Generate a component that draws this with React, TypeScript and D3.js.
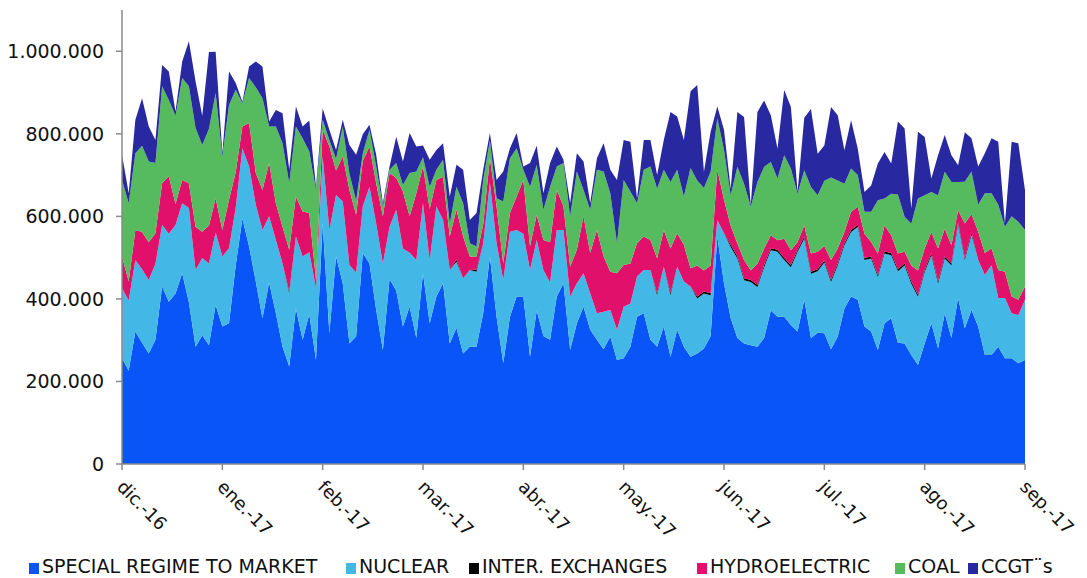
import React from "react";
import * as d3 from "d3";

// Month tick labels (x axis)
const MONTH_LABELS = ["dic.-16", "ene.-17", "feb.-17", "mar.-17", "abr.-17", "may.-17", "jun.-17", "jul.-17", "ago.-17", "sep.-17"];
const POINTS_PER_MONTH = 15;
const Y_TICKS = [0, 200000, 400000, 600000, 800000, 1000000];

// Series values in thousands, one value per sample
const SPECIAL = [
  256, 226, 321, 294, 268, 301, 430, 393, 413, 462, 392, 284, 312, 288, 385,
  333, 341, 481, 595, 527, 442, 353, 440, 365, 284, 236, 377, 301, 363, 252,
  583, 317, 503, 438, 292, 309, 511, 486, 373, 276, 448, 420, 333, 381, 305,
  462, 341, 406, 438, 292, 330, 268, 284, 284, 365, 503, 357, 244, 357, 406,
  406, 260, 372, 310, 301, 406, 438, 276, 341, 381, 325, 301, 278, 309, 252,
  256, 284, 357, 365, 301, 284, 333, 260, 325, 284, 260, 268, 280, 310, 551,
  438, 353, 305, 292, 288, 284, 305, 372, 357, 357, 337, 321, 398, 305, 318,
  317, 278, 309, 377, 406, 398, 333, 321, 276, 341, 353, 294, 292, 264, 240,
  292, 341, 280, 365, 305, 402, 329, 373, 333, 264, 264, 284, 256, 256, 244, 252,
];
const NUCLEAR = [
  170, 170, 173, 178, 178, 184, 149, 165, 166, 170, 228, 186, 187, 198, 176,
  170, 182, 140, 170, 194, 186, 214, 160, 178, 202, 178, 174, 202, 150, 174,
  162, 250, 149, 198, 190, 155, 113, 186, 210, 210, 127, 196, 189, 131, 189,
  170, 153, 218, 153, 178, 160, 182, 186, 182, 170, 179, 178, 202, 206, 161,
  152, 210, 171, 160, 139, 161, 129, 130, 97, 81, 89, 64, 91, 64, 73,
  125, 105, 97, 105, 169, 125, 145, 149, 153, 158, 170, 133, 133, 99, 40,
  121, 173, 193, 153, 153, 145, 172, 146, 157, 137, 140, 193, 148, 156, 149,
  171, 163, 172, 153, 156, 176, 161, 177, 177, 169, 153, 173, 189, 173, 165,
  173, 165, 157, 133, 176, 178, 165, 182, 161, 194, 218, 118, 146, 109, 117, 146,
];
const EXCHANGES = [
  0, 0, 0, 0, 0, 0, 0, 0, 0, 0, 0, 0, 0, 0, 0,
  0, 0, 0, 0, 0, 0, 0, 0, 0, 0, 4, 0, 0, 0, 0,
  0, 0, 0, 0, 0, 0, 0, 0, 0, 0, 0, 0, 0, 0, 0,
  0, 0, 0, 0, 0, 5, 0, 0, 5, 0, 0, 0, 0, 0, 0,
  0, 0, 0, 0, 0, 0, 0, 0, 0, 0, 0, 0, 0, 0, 0,
  0, 0, 0, 0, 0, 5, 0, 5, 0, 0, 0, 5, 5, 5, 0,
  0, 5, 5, 5, 5, 5, 5, 5, 5, 5, 5, 5, 5, 5, 5,
  5, 5, 5, 5, 5, 5, 5, 5, 5, 5, 5, 5, 5, 5, 5,
  5, 5, 5, 5, 5, 5, 5, 5, 0, 0, 0, 0, 0, 0, 0, 0,
];
const HYDRO = [
  77, 46, 73, 90, 91, 74, 101, 139, 51, 56, 60, 105, 64, 92, 83,
  64, 117, 86, 53, 105, 77, 97, 129, 89, 89, 101, 97, 109, 95, 20,
  65, 202, 59, 109, 182, 140, 110, 97, 97, 114, 130, 77, 138, 88, 162,
  89, 124, 64, 105, 81, 121, 101, 33, 32, 46, 59, 89, 40, 45, 81,
  130, 57, 61, 73, 97, 97, 57, 72, 81, 138, 97, 202, 134, 93, 137,
  101, 97, 81, 81, 73, 84, 89, 108, 81, 89, 44, 75, 51, 67, 122,
  81, 46, 31, 44, 23, 51, 40, 31, 23, 47, 36, 19, 27, 44, 42,
  35, 48, 36, 27, 44, 44, 59, 35, 52, 63, 43, 38, 28, 39, 59,
  52, 51, 80, 67, 44, 30, 84, 46, 69, 53, 41, 68, 64, 41, 37, 32,
];
const COAL = [
  185, 190, 186, 209, 196, 170, 235, 185, 214, 247, 235, 239, 210, 234, 255,
  178, 230, 200, 56, 109, 208, 222, 89, 186, 202, 161, 170, 177, 149, 218,
  24, 16, 28, 73, 39, 34, 19, 41, 41, 24, 8, 36, 16, 105, 53,
  22, 54, 25, 41, 32, 56, 81, 32, 24, 107, 43, 20, 150, 133, 117,
  25, 145, 121, 73, 135, 57, 105, 122, 190, 64, 105, 146, 206, 190, 73,
  206, 174, 97, 162, 178, 169, 146, 161, 154, 117, 243, 206, 200, 227, 125,
  121, 74, 186, 185, 154, 198, 198, 178, 150, 202, 198, 117, 134, 161, 137,
  158, 200, 165, 117, 105, 77, 53, 73, 129, 65, 101, 143, 85, 101, 174,
  129, 97, 129, 138, 153, 68, 101, 103, 65, 145, 133, 158, 109, 194, 189, 137,
];
const CCGT = [
  61, 24, 81, 115, 85, 56, 52, 69, 10, 40, 109, 113, 71, 186, 100,
  8, 81, 16, 4, 28, 62, 77, 12, 40, 73, 33, 48, 29, 75, 8,
  28, 25, 22, 16, 70, 111, 46, 12, 28, 8, 8, 64, 57, 97, 60,
  29, 65, 48, 40, 65, 53, 81, 56, 81, 25, 18, 44, 73, 24, 37,
  8, 57, 46, 40, 57, 48, 8, 32, 44, 69, 16, 28, 68, 57, 153,
  97, 121, 12, 72, 64, 33, 72, 170, 129, 137, 186, 231, 39, 97, 28,
  49, 16, 133, 162, 4, 170, 161, 113, 72, 158, 149, 4, 127, 189, 101,
  86, 171, 158, 81, 117, 64, 48, 64, 89, 113, 73, 177, 214, 37, 162,
  141, 33, 97, 89, 65, 41, 120, 80, 93, 97, 133, 153, 8, 181, 190, 96,
];

const SERIES = [
  { key: "special", name: "SPECIAL REGIME TO MARKET", color: "#0A55F8", values: SPECIAL },
  { key: "nuclear", name: "NUCLEAR", color: "#43B8E6", values: NUCLEAR },
  { key: "exchanges", name: "INTER. EXCHANGES", color: "#000000", values: EXCHANGES },
  { key: "hydro", name: "HYDROELECTRIC", color: "#E1106A", values: HYDRO },
  { key: "coal", name: "COAL", color: "#55BB5E", values: COAL },
  { key: "ccgt", name: "CCGT¨s", color: "#2828A0", values: CCGT },
];

const LEGEND_X = [29, 346, 469, 697, 895, 968];

export default function App() {
  const W = 1087, H = 578;
  const left = 122, right = 1025, top = 10, bottom = 464;
  const font = "'DejaVu Sans', Verdana, sans-serif";
  const n = SPECIAL.length;

  const x = d3.scaleLinear().domain([0, MONTH_LABELS.length - 1]).range([left, right]);
  const y = d3.scaleLinear().domain([0, 1100000]).range([bottom, top]);

  const rows = d3.range(n).map((i) => {
    const r: any = { t: i / POINTS_PER_MONTH };
    SERIES.forEach((s) => (r[s.key] = s.values[i] * 1000));
    return r;
  });
  const stacked = d3.stack<any>().keys(SERIES.map((s) => s.key))(rows);
  const area = d3
    .area<any>()
    .x((d: any) => x(d.data.t))
    .y0((d: any) => y(d[0]))
    .y1((d: any) => y(d[1]))
    .curve(d3.curveLinear);

  const fmt = (v: number) => d3.format(",")(v).replace(/,/g, ".");
  const axisColor = "#8a8a8a";

  return (
    <svg width={W} height={H} style={{ position: "absolute", left: 0, top: 0, display: "block" }} fontFamily={font}>
      <rect x={0} y={0} width={W} height={H} fill="#fff" />
      {stacked.map((layer, i) => (
        <path key={SERIES[i].key} d={area(layer as any) || ""} fill={SERIES[i].color} />
      ))}
      {/* y axis */}
      <line x1={left} x2={left} y1={top} y2={bottom} stroke={axisColor} strokeWidth={1.5} />
      {Y_TICKS.map((t) => (
        <g key={t}>
          <line x1={left - 6} x2={left} y1={y(t)} y2={y(t)} stroke={axisColor} strokeWidth={1.5} />
          <text x={104} y={y(t)} dy="0.36em" textAnchor="end" fontSize={19} fill="#111">
            {fmt(t)}
          </text>
        </g>
      ))}
      {/* x axis */}
      <line x1={left} x2={right} y1={bottom} y2={bottom} stroke={axisColor} strokeWidth={1.5} />
      {MONTH_LABELS.map((m, i) => (
        <g key={m}>
          <line x1={x(i)} x2={x(i)} y1={bottom} y2={bottom + 6} stroke={axisColor} strokeWidth={1.5} />
          <text
            transform={`translate(${x(i) - 6},${bottom + 24}) rotate(45)`}
            fontSize={18}
            fill="#111"
          >
            {m}
          </text>
        </g>
      ))}
      {/* legend */}
      {SERIES.map((s, i) => (
        <g key={s.key}>
          <rect x={LEGEND_X[i]} y={563} width={10} height={11} fill={s.color} />
          <text x={LEGEND_X[i] + 13} y={573} fontSize={19} fill="#111">
            {s.name}
          </text>
        </g>
      ))}
    </svg>
  );
}
